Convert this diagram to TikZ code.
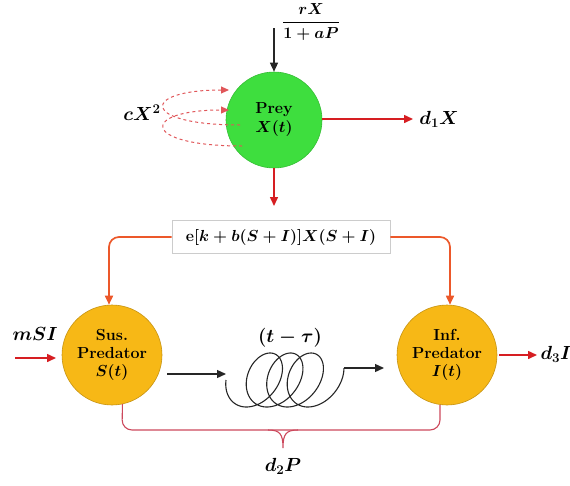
\RequirePackage{fix-cm}
\documentclass[tikz,border=0pt]{standalone}
\usepackage{amsmath}
\usetikzlibrary{arrows.meta,calc}
\definecolor{preygreen}{RGB}{62,222,62}
\definecolor{predorange}{RGB}{247,184,22}
\definecolor{arrred}{RGB}{214,30,34}
\definecolor{conorange}{RGB}{236,88,42}
\definecolor{bracepink}{RGB}{204,72,92}
\begin{document}
\begin{tikzpicture}[x=1pt,y=-1pt,
  every node/.style={font=\fontsize{16}{18}\selectfont\bfseries\boldmath},
  bigcirc/.style={circle, minimum size=100pt, inner sep=0pt, align=center},
  redarr/.style={draw=arrred, line width=1.5pt, -{Triangle[length=9pt,width=8pt]}},
  blkarr/.style={draw=black!85, line width=1.3pt, -{Triangle[length=9pt,width=8pt]}},
  orarr/.style={draw=conorange, line width=1.7pt, rounded corners=10pt, -{Triangle[length=9pt,width=8pt]}},
  dasharr/.style={draw=arrred!75, dashed, line width=1pt, -{Triangle[length=8pt,width=7pt]}},
  lbl/.style={font=\fontsize{19}{21}\selectfont\boldmath}
]
\useasboundingbox (0,0) rectangle (570,485);
% nodes
\node[bigcirc, minimum size=96pt, fill=preygreen, draw=preygreen!85!black, line width=0.6pt] (prey) at (274,120) {Prey\\[1pt]$X(t)$};
\node[bigcirc, fill=predorange, draw=predorange!80!black, line width=0.6pt] (S) at (112,355) {Sus.\\Predator\\$S(t)$};
\node[bigcirc, fill=predorange, draw=predorange!80!black, line width=0.6pt] (I) at (447,355) {Inf.\\Predator\\$I(t)$};
\node[draw=black!20, line width=0.8pt, fill=white, minimum width=218pt, minimum height=33pt, inner sep=2pt, font=\fontsize{16}{18}\selectfont\boldmath] (box) at (281,237) {$\mathrm{e}[k+b(S+I)]X(S+I)$};
% labels
\node[font=\fontsize{16}{18}\selectfont\boldmath] (grow) at (311,22) {$\dfrac{rX}{1+aP}$};
\node[lbl] (d1) at (439,119) {$d_1X$};
\node[lbl] (cx) at (142,113) {$cX^2$};
\node[lbl] (msi) at (35,334) {$mSI$};
\node[lbl] (d3) at (556,354) {$d_3I$};
\node[lbl] (tau) at (290,338) {$(t-\tau)$};
\node[lbl] (d2) at (283,466) {$d_2P$};
% coordinates
\coordinate (topin) at (274,28);
\coordinate (downend) at (274,206);
\coordinate (msistart) at (15,358);
\coordinate (msiend) at (56,358);
\coordinate (d3start) at (499,355);
\coordinate (d3end) at (537,355);
\coordinate (d1start) at (322,119);
\coordinate (d1end) at (413,119);
\coordinate (c1a) at (229,90);
\coordinate (c1b) at (240,125);
\coordinate (c2a) at (229,110);
\coordinate (c2b) at (242,146);
\coordinate (sout) at (167,374);
\coordinate (coilin) at (226,374);
\coordinate (coilB) at (343.9,368);
\coordinate (coilout) at (384,368);
\coordinate (bL) at (122,430);
\coordinate (bR) at (440,430);
% connectors
\draw[blkarr] (topin) -- (prey.north);
\draw[redarr] (d1start) -- (d1end);
\draw[redarr] (prey.south) -- (downend);
\draw[dasharr] (c1b) .. controls (140,125) and (140,90) .. (c1a);
\draw[dasharr] (c2b) .. controls (140,146) and (140,110) .. (c2a);
\draw[orarr] (box.west) -| ($(S.north)+(-3,0)$);
\draw[orarr] (box.east) -| ($(I.north)+(3,0)$);
\draw[redarr] (msistart) -- (msiend);
\draw[redarr] (d3start) -- (d3end);
\draw[blkarr] (sout) -- (coilin);
\draw[black!85, line width=1.1pt] plot[domain=1.5708:24.02, samples=280, variable=\t, smooth] ({242.9+3.26*\t-22*sin(\t r)+6.75*cos(\t r)},{380-27*cos(\t r)});
\draw[blkarr] (coilB) -- (coilout);
\draw[bracepink, line width=1.1pt, rounded corners=10pt] (S.-78) -- (bL) -- (bR) -- (I.-98);
\draw[bracepink, line width=1.1pt] (268,430) .. controls (280,430) and (283,434) .. (283,448) .. controls (283,434) and (286,430) .. (298,430);
\end{tikzpicture}
\end{document}
